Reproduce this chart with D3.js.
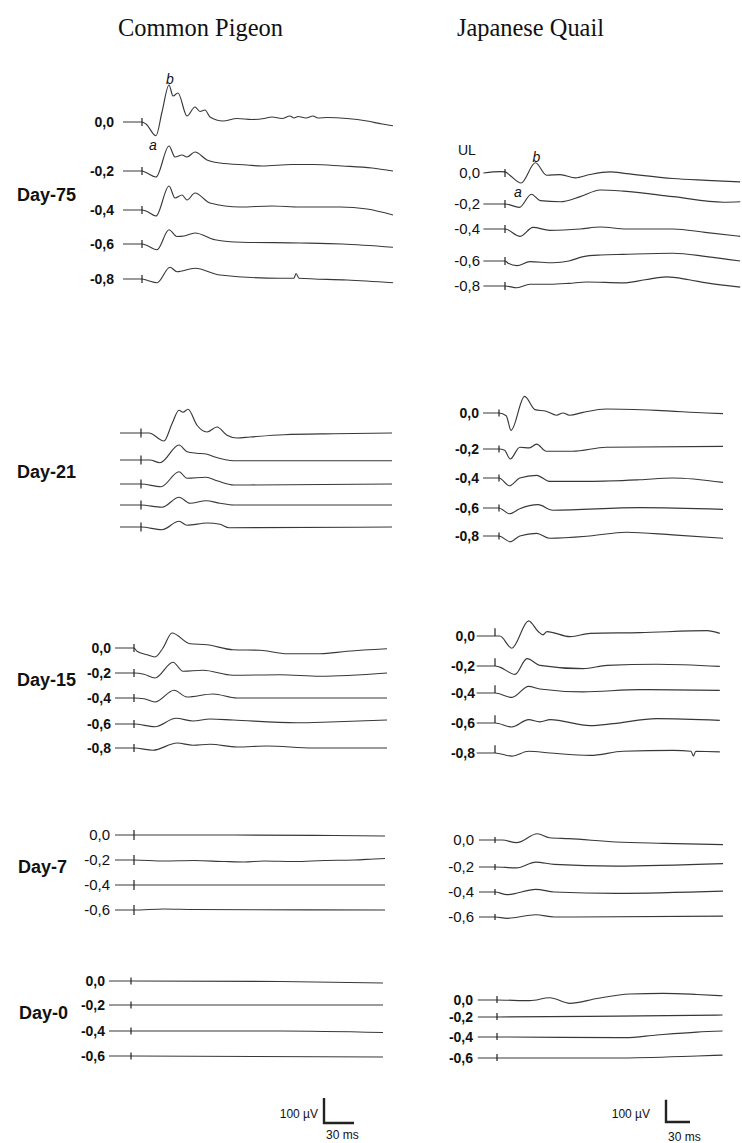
<!DOCTYPE html>
<html>
<head>
<meta charset="utf-8">
<script src="https://cdn.jsdelivr.net/npm/d3@7"></script>
<style>
body { margin: 0; background: #fff; }
.trace { fill: none; stroke: #383838; stroke-width: 1.15; stroke-linejoin: round; }
.flash { stroke: #222; stroke-width: 1.2; }
.lvl { font-family: "Liberation Sans", Arial, sans-serif; font-size: 14px; font-weight: bold; fill: #111; }
.lvl.thin { font-weight: normal; font-size: 15px; }
.day { font-family: "Liberation Sans", Arial, sans-serif; font-size: 18px; font-weight: bold; fill: #111; }
.title { font-family: "Liberation Serif", "Times New Roman", serif; font-size: 25px; fill: #111; }
.wave { font-family: "Liberation Sans", Arial, sans-serif; font-size: 14px; font-style: italic; fill: #111; }
.note { font-family: "Liberation Sans", Arial, sans-serif; font-size: 12px; fill: #111; }
.bar { stroke: #222; stroke-width: 2.4; fill: none; }
</style>
</head>
<body>
<script>
const WIDTH = 742;
const HEIGHT = 1143;

// labels
const species = ["Common Pigeon", "Japanese Quail"];
const days = ["Day-75", "Day-21", "Day-15", "Day-7", "Day-0"];
const intensities = ["0,0", "-0,2", "-0,4", "-0,6", "-0,8"];
const scaleBarMs = 30;
const scaleBarUv = 100;

// traces: [ms after flash, µV]
const pigeonDay75 = [
    [[-19,0],[-2,0],[0,0],[4,-8],[14,-55],[20,40],[27,148],[31,104],[36,116],[45,24],[53,60],[58,42],[63,48],[68,20],[81,4],[95,14],[110,10],[122,14],[130,20],[140,14],[148,24],[152,16],[156,22],[164,16],[171,24],[176,16],[185,18],[205,14],[225,4],[240,-8],[251,-15]],
    [[-19,0],[-2,0],[0,0],[4,-6],[14,-24],[27,100],[33,56],[40,64],[45,56],[53,76],[65,44],[78,32],[105,24],[120,20],[150,26],[171,26],[200,20],[230,12],[251,0]],
    [[-19,0],[-2,0],[0,0],[5,-6],[14,-24],[27,96],[33,48],[40,60],[45,40],[53,68],[68,28],[98,12],[130,16],[158,12],[198,12],[225,4],[251,-20]],
    [[-19,0],[-2,0],[0,0],[5,-6],[15,-23],[27,57],[35,30],[42,32],[53,44],[73,17],[100,7],[158,4],[200,0],[251,-13]],
    [[-19,0],[-2,0],[0,0],[5,-5],[15,-15],[28,47],[35,29],[53,43],[78,16],[138,3],[152,3],[154,22],[157,3],[205,-4],[251,-15]]
];
const quailDay75 = [
    [[-27,0],[-6,6],[0,5],[6,-10],[20,-45],[38,46],[52,-10],[69,-7],[88,-22],[106,-7],[131,5],[152,-3],[210,-25],[252,-33],[294,-40]],
    [[-27,0],[0,0],[18,-15],[33,44],[44,15],[69,10],[94,33],[119,63],[148,58],[210,33],[273,8],[294,10]],
    [[-27,0],[0,0],[19,-33],[35,7],[56,-6],[94,0],[119,9],[152,0],[210,0],[250,-15],[294,-33]],
    [[-27,0],[0,0],[4,-10],[15,-21],[31,-3],[60,-8],[80,0],[98,20],[120,27],[148,30],[210,35],[252,20],[294,0]],
    [[-27,0],[0,0],[15,-8],[31,8],[56,8],[80,12],[102,18],[148,14],[175,28],[202,41],[230,28],[252,14],[294,-5]]
];
const pigeonDay21 = [
    [[-21,0],[0,0],[8,0],[23,-32],[31,37],[38,91],[42,83],[47,95],[56,31],[66,4],[76,24],[86,-9],[96,-20],[109,-16],[143,-7],[193,-3],[251,0]],
    [[-21,0],[0,0],[9,0],[19,-11],[38,60],[46,33],[56,27],[65,24],[73,13],[93,-3],[159,-3],[251,-3]],
    [[-21,0],[0,0],[20,-11],[38,49],[46,23],[65,27],[76,13],[93,-4],[251,0]],
    [[-21,0],[0,0],[21,-9],[38,31],[49,7],[65,17],[79,7],[93,0],[251,0]],
    [[-21,0],[0,0],[21,-11],[38,23],[46,7],[66,16],[79,11],[88,-3],[251,0]]
];
const quailDay21 = [
    [[-20,0],[0,0],[9,-12],[15,-78],[32,75],[45,15],[59,8],[72,-10],[80,0],[88,-10],[105,3],[134,18],[197,12],[259,0],[280,-3]],
    [[-20,0],[0,0],[7,-6],[14,-45],[26,8],[38,5],[47,22],[59,-10],[92,-10],[134,8],[280,12]],
    [[-20,0],[0,0],[13,-35],[26,0],[47,12],[63,-15],[113,-15],[176,-8],[217,0],[280,-20]],
    [[-20,0],[0,0],[13,-26],[26,-3],[49,15],[67,-10],[176,2],[280,-6]],
    [[-20,0],[0,0],[14,-26],[26,0],[47,12],[63,-10],[113,0],[159,17],[217,5],[280,-10]]
];
const pigeonDay15 = [
    [[-19,0],[0,0],[3,-13],[13,-27],[21,-36],[29,0],[38,60],[56,17],[73,13],[99,-7],[126,-9],[153,-23],[186,-23],[213,-13],[253,-3]],
    [[-19,0],[0,0],[10,-5],[21,-20],[39,43],[49,7],[69,11],[99,-9],[146,-7],[186,-13],[253,0]],
    [[-19,0],[0,0],[10,-3],[21,-16],[40,31],[53,4],[79,16],[103,0],[253,0]],
    [[-19,0],[0,0],[21,-11],[42,23],[59,12],[76,20],[99,16],[163,5],[196,8],[253,16]],
    [[-19,0],[0,0],[19,-9],[43,20],[59,11],[76,15],[103,4],[133,8],[179,0],[253,0]]
];
const quailDay15 = [
    [[-23,0],[0,0],[6,0],[21,-55],[42,68],[54,20],[60,5],[65,20],[94,-3],[119,12],[181,15],[265,24],[281,12]],
    [[-23,0],[0,0],[6,-5],[25,-38],[40,33],[56,3],[110,-12],[140,3],[202,8],[281,-2]],
    [[-23,0],[0,0],[21,-20],[42,30],[56,18],[110,5],[181,15],[281,12]],
    [[-23,0],[0,0],[21,-18],[42,15],[56,5],[69,15],[119,-12],[148,-3],[202,20],[281,12]],
    [[-23,0],[0,0],[21,-14],[42,8],[69,0],[119,-11],[160,8],[223,12],[245,8],[248,-14],[251,8],[281,5]]
];
const pigeonDay7 = [
    [[-19,0],[0,0],[100,0],[200,-2],[251,-4]],
    [[-19,0],[0,0],[30,-4],[60,-2],[90,-6],[110,-8],[130,-4],[160,-6],[190,-2],[220,0],[240,4],[251,6]],
    [[-19,0],[0,0],[251,0]],
    [[-19,0],[0,0],[30,4],[60,2],[251,0]]
];
const quailDay7 = [
    [[-20,0],[0,0],[9,0],[27,-12],[53,28],[68,10],[92,6],[151,-9],[211,-15],[285,-21]],
    [[-20,0],[0,0],[27,-4],[51,22],[74,12],[151,4],[285,15]],
    [[-20,0],[0,0],[15,-12],[51,12],[74,0],[151,-6],[285,4]],
    [[-20,0],[0,0],[15,-6],[51,10],[74,0],[285,4]]
];
const pigeonDay0 = [
    [[-22,0],[0,0],[150,-2],[252,-8]],
    [[-22,0],[0,0],[252,0]],
    [[-22,0],[0,0],[150,0],[252,-6]],
    [[-22,0],[0,0],[252,-4]]
];
const quailDay0 = [
    [[-24,0],[0,0],[41,-3],[66,10],[91,-15],[125,7],[166,27],[208,30],[250,25],[282,19]],
    [[-24,0],[0,0],[150,4],[282,9]],
    [[-24,0],[0,0],[160,-3],[200,9],[250,22],[282,27]],
    [[-24,0],[0,0],[150,0],[250,9],[282,13]]
];
// flash artefact, µV above / below baseline, one pair per panel
const flashSpikes = [[16,16],[18,18],[18,18],[16,16],[16,16],[35,0],[20,20],[14,14],[14,14],[18,14]];

// layout
const COLUMNS = [
    {pxPerMs: 1.0, pxPerUv: 0.25, titleX: 118, titleW: 165, barX: 324, barY: 1123},
    {pxPerMs: 0.8, pxPerUv: 0.222, titleX: 457, titleW: 147, barX: 666, barY: 1122}
];
const panels = [
    {data: pigeonDay75, col: 0, flashX: 142, rows: [122, 171, 210, 244, 279], labelX: 114},
    {data: quailDay75, col: 1, flashX: 505, rows: [173, 204, 229, 261, 286], labelX: 480, thin: true},
    {data: pigeonDay21, col: 0, flashX: 141, rows: [433, 460, 484, 505, 527], labelX: null},
    {data: quailDay21, col: 1, flashX: 499, rows: [413, 449, 478, 508, 536], labelX: 479},
    {data: pigeonDay15, col: 0, flashX: 134, rows: [648, 673, 698, 724, 748], labelX: 111},
    {data: quailDay15, col: 1, flashX: 495, rows: [636, 666, 693, 723, 753], labelX: 475},
    {data: pigeonDay7, col: 0, flashX: 134, rows: [835, 860, 885, 910], labelX: 110, thin: true},
    {data: quailDay7, col: 1, flashX: 495, rows: [840, 867, 892, 917], labelX: 474, thin: true},
    {data: pigeonDay0, col: 0, flashX: 131, rows: [981, 1005, 1031, 1056], labelX: 105},
    {data: quailDay0, col: 1, flashX: 497, rows: [1000, 1017, 1037, 1058], labelX: 473}
];
const dayLabelPos = [[17, 195], [17, 472], [17, 680], [18, 867], [19, 1013]];

var svg = d3.select('body').append('svg')
    .attr('width', WIDTH)
    .attr('height', HEIGHT);

// column titles
species.forEach(function (name, i) {
    svg.append('text').attr('class', 'title')
        .attr('x', COLUMNS[i].titleX).attr('y', 36)
        .attr('textLength', COLUMNS[i].titleW)
        .attr('lengthAdjust', 'spacingAndGlyphs')
        .text(name);
});

days.forEach(function (d, i) {
    svg.append('text').attr('class', 'day')
        .attr('x', dayLabelPos[i][0]).attr('y', dayLabelPos[i][1])
        .attr('dy', '0.35em')
        .text(d);
});

function drawPanel(p, i) {
    var col = COLUMNS[p.col];
    var x = d3.scaleLinear().domain([0, 100]).range([p.flashX, p.flashX + 100 * col.pxPerMs]);
    var g = svg.append('g');
    var spike = flashSpikes[i];

    p.data.forEach(function (trace, k) {
        var base = p.rows[k];
        var y = d3.scaleLinear().domain([0, 100]).range([base, base - 100 * col.pxPerUv]);
        var line = d3.line()
            .x(function (d) { return x(d[0]); })
            .y(function (d) { return y(d[1]); })
            .curve(d3.curveMonotoneX);

        g.append('path').attr('class', 'trace').attr('d', line(trace));
        g.append('line').attr('class', 'flash')
            .attr('x1', x(0)).attr('x2', x(0))
            .attr('y1', y(spike[0])).attr('y2', y(-spike[1]));

        if (p.labelX) {
            g.append('text').attr('class', p.thin ? 'lvl thin' : 'lvl')
                .attr('x', p.labelX).attr('y', base)
                .attr('dy', '0.35em')
                .attr('text-anchor', 'end')
                .text(intensities[k]);
        }

        // a- and b-wave marks on the brightest Day-75 trace
        if (i < 2 && k === 0) {
            var early = trace.filter(function (d) { return d[0] > 0 && d[0] < 60; });
            var aw = d3.least(early, function (d) { return d[1]; });
            var bw = d3.greatest(early, function (d) { return d[1]; });
            g.append('text').attr('class', 'wave')
                .attr('x', x(aw[0]) - 3).attr('y', y(aw[1]) + 14)
                .attr('text-anchor', 'middle').text('a');
            g.append('text').attr('class', 'wave')
                .attr('x', x(bw[0]) + 1).attr('y', y(bw[1]) - 1)
                .attr('text-anchor', 'middle').text('b');
        }
    });
}

panels.forEach(drawPanel);

svg.append('text').attr('class', 'note')
    .attr('x', 458).attr('y', 150).attr('dy', '0.35em')
    .style('font-size', '14px')
    .text('UL');

// scale bars
COLUMNS.forEach(function (col, i) {
    var h = scaleBarUv * col.pxPerUv;
    var w = scaleBarMs * col.pxPerMs;
    var path = d3.path();
    path.moveTo(col.barX, col.barY - h);
    path.lineTo(col.barX, col.barY);
    path.lineTo(col.barX + w, col.barY);
    svg.append('path').attr('class', 'bar').attr('d', path.toString());
    svg.append('text').attr('class', 'note')
        .attr('x', col.barX - (i === 0 ? 6 : 16)).attr('y', col.barY - h / 2 + 3)
        .attr('dy', '0.35em').attr('text-anchor', 'end')
        .text(scaleBarUv + ' µV');
    svg.append('text').attr('class', 'note')
        .attr('x', col.barX + 2).attr('y', col.barY + 16 + i * 3)
        .text(scaleBarMs + ' ms');
});
</script>
</body>
</html>
